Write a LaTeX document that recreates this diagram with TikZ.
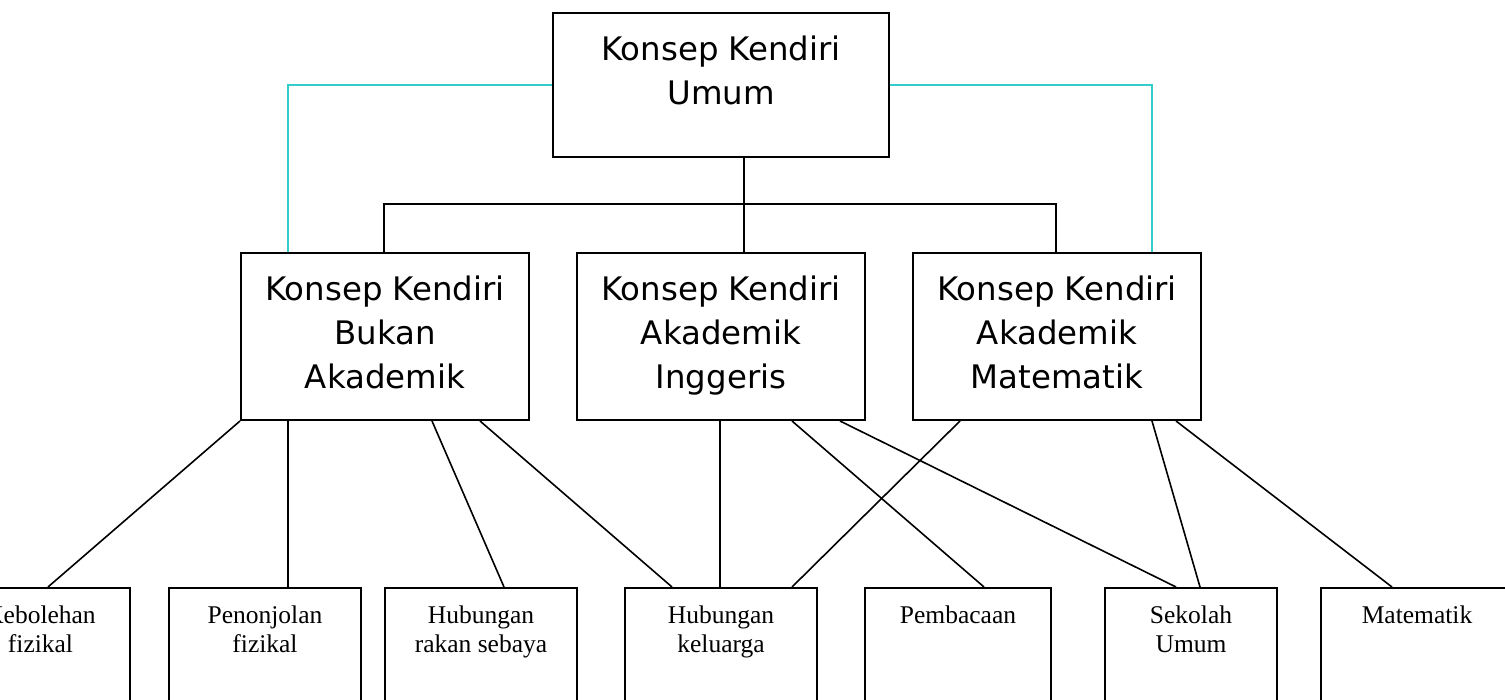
\documentclass[tikz,border=0pt]{standalone}
\usepackage{fontspec}
\setmainfont{Liberation Serif}
\newfontfamily\boxsans{DejaVu Sans}
\usetikzlibrary{calc}
\definecolor{linkcyan}{RGB}{51,204,204}
\begin{document}
\begin{tikzpicture}[x=1pt,y=-1pt,
  bigbox/.style={draw=black, line width=2pt, inner sep=0pt, anchor=north west},
  sanstext/.style={anchor=north, yshift=-23.7pt, inner sep=0pt, align=center,
    font=\boxsans\fontsize{32.4}{44}\selectfont},
  serifttext/.style={anchor=north, yshift=-18.6pt, inner sep=0pt, align=center,
    font=\fontsize{25.5}{29.5}\selectfont},
  link/.style={draw=black, line width=1.6pt},
  cyanlink/.style={draw=linkcyan, line width=1.7pt}]
\useasboundingbox (0,0) rectangle (1505,700);
\clip (0,0) rectangle (1505,700);
% top
\node[bigbox, minimum width=336pt, minimum height=144pt,
  label={[sanstext]north:{Konsep Kendiri\\Umum}}] (umum) at (552,12) {};
% middle
\node[bigbox, minimum width=288pt, minimum height=167pt,
  label={[sanstext]north:{Konsep Kendiri\\Bukan\\Akademik}}] (bukan) at (240,252) {};
\node[bigbox, minimum width=288pt, minimum height=167pt,
  label={[sanstext]north:{Konsep Kendiri\\Akademik\\Inggeris}}] (ingg) at (576,252) {};
\node[bigbox, minimum width=288pt, minimum height=167pt,
  label={[sanstext]north:{Konsep Kendiri\\Akademik\\Matematik}}] (matm) at (912,252) {};
% bottom
\node[bigbox, minimum width=179pt, minimum height=140pt,
  label={[serifttext]north:{Kebolehan\\fizikal}}] (keb) at (-50,587) {};
\node[bigbox, minimum width=192pt, minimum height=140pt,
  label={[serifttext]north:{Penonjolan\\fizikal}}] (pen) at (168,587) {};
\node[bigbox, minimum width=192pt, minimum height=140pt,
  label={[serifttext]north:{Hubungan\\rakan sebaya}}] (rak) at (384,587) {};
\node[bigbox, minimum width=192pt, minimum height=140pt,
  label={[serifttext]north:{Hubungan\\keluarga}}] (kel) at (624,587) {};
\node[bigbox, minimum width=186pt, minimum height=140pt,
  label={[serifttext]north:{Pembacaan}}] (pem) at (864,587) {};
\node[bigbox, minimum width=172pt, minimum height=140pt,
  label={[serifttext]north:{Sekolah\\Umum}}] (sek) at (1104,587) {};
\node[bigbox, minimum width=192pt, minimum height=140pt,
  label={[serifttext]north:{Matematik}}] (mat) at (1320,587) {};
% cyan links
\draw[cyanlink] (umum.west) -| ($(bukan.north west)+(48,0)$);
\draw[cyanlink] (umum.east) -| ($(matm.north west)+(240,0)$);
% tree
\draw[link] ($(umum.south west)+(192,0)$) -- ($(ingg.north west)+(168,0)$);
\draw[link] ($(bukan.north west)+(144,0)$) -- ++(0,-48) -| ($(matm.north west)+(144,0)$);
% lower connectors
\draw[link] (bukan.south west) -- ($(keb.north west)+(98,0)$);
\draw[link] ($(bukan.south west)+(48,0)$) -- ($(pen.north west)+(120,0)$);
\draw[link] ($(bukan.south west)+(192,0)$) -- ($(rak.north west)+(120,0)$);
\draw[link] ($(bukan.south west)+(240,0)$) -- ($(kel.north west)+(48,0)$);
\draw[link] ($(ingg.south west)+(144,0)$) -- ($(kel.north west)+(96,0)$);
\draw[link] ($(ingg.south west)+(216,0)$) -- ($(pem.north west)+(120,0)$);
\draw[link] ($(ingg.south west)+(264,0)$) -- ($(sek.north west)+(72,0)$);
\draw[link] ($(matm.south west)+(48,0)$) -- ($(kel.north west)+(168,0)$);
\draw[link] ($(matm.south west)+(240,0)$) -- ($(sek.north west)+(96,0)$);
\draw[link] ($(matm.south west)+(264,0)$) -- ($(mat.north west)+(72,0)$);
\end{tikzpicture}
\end{document}
